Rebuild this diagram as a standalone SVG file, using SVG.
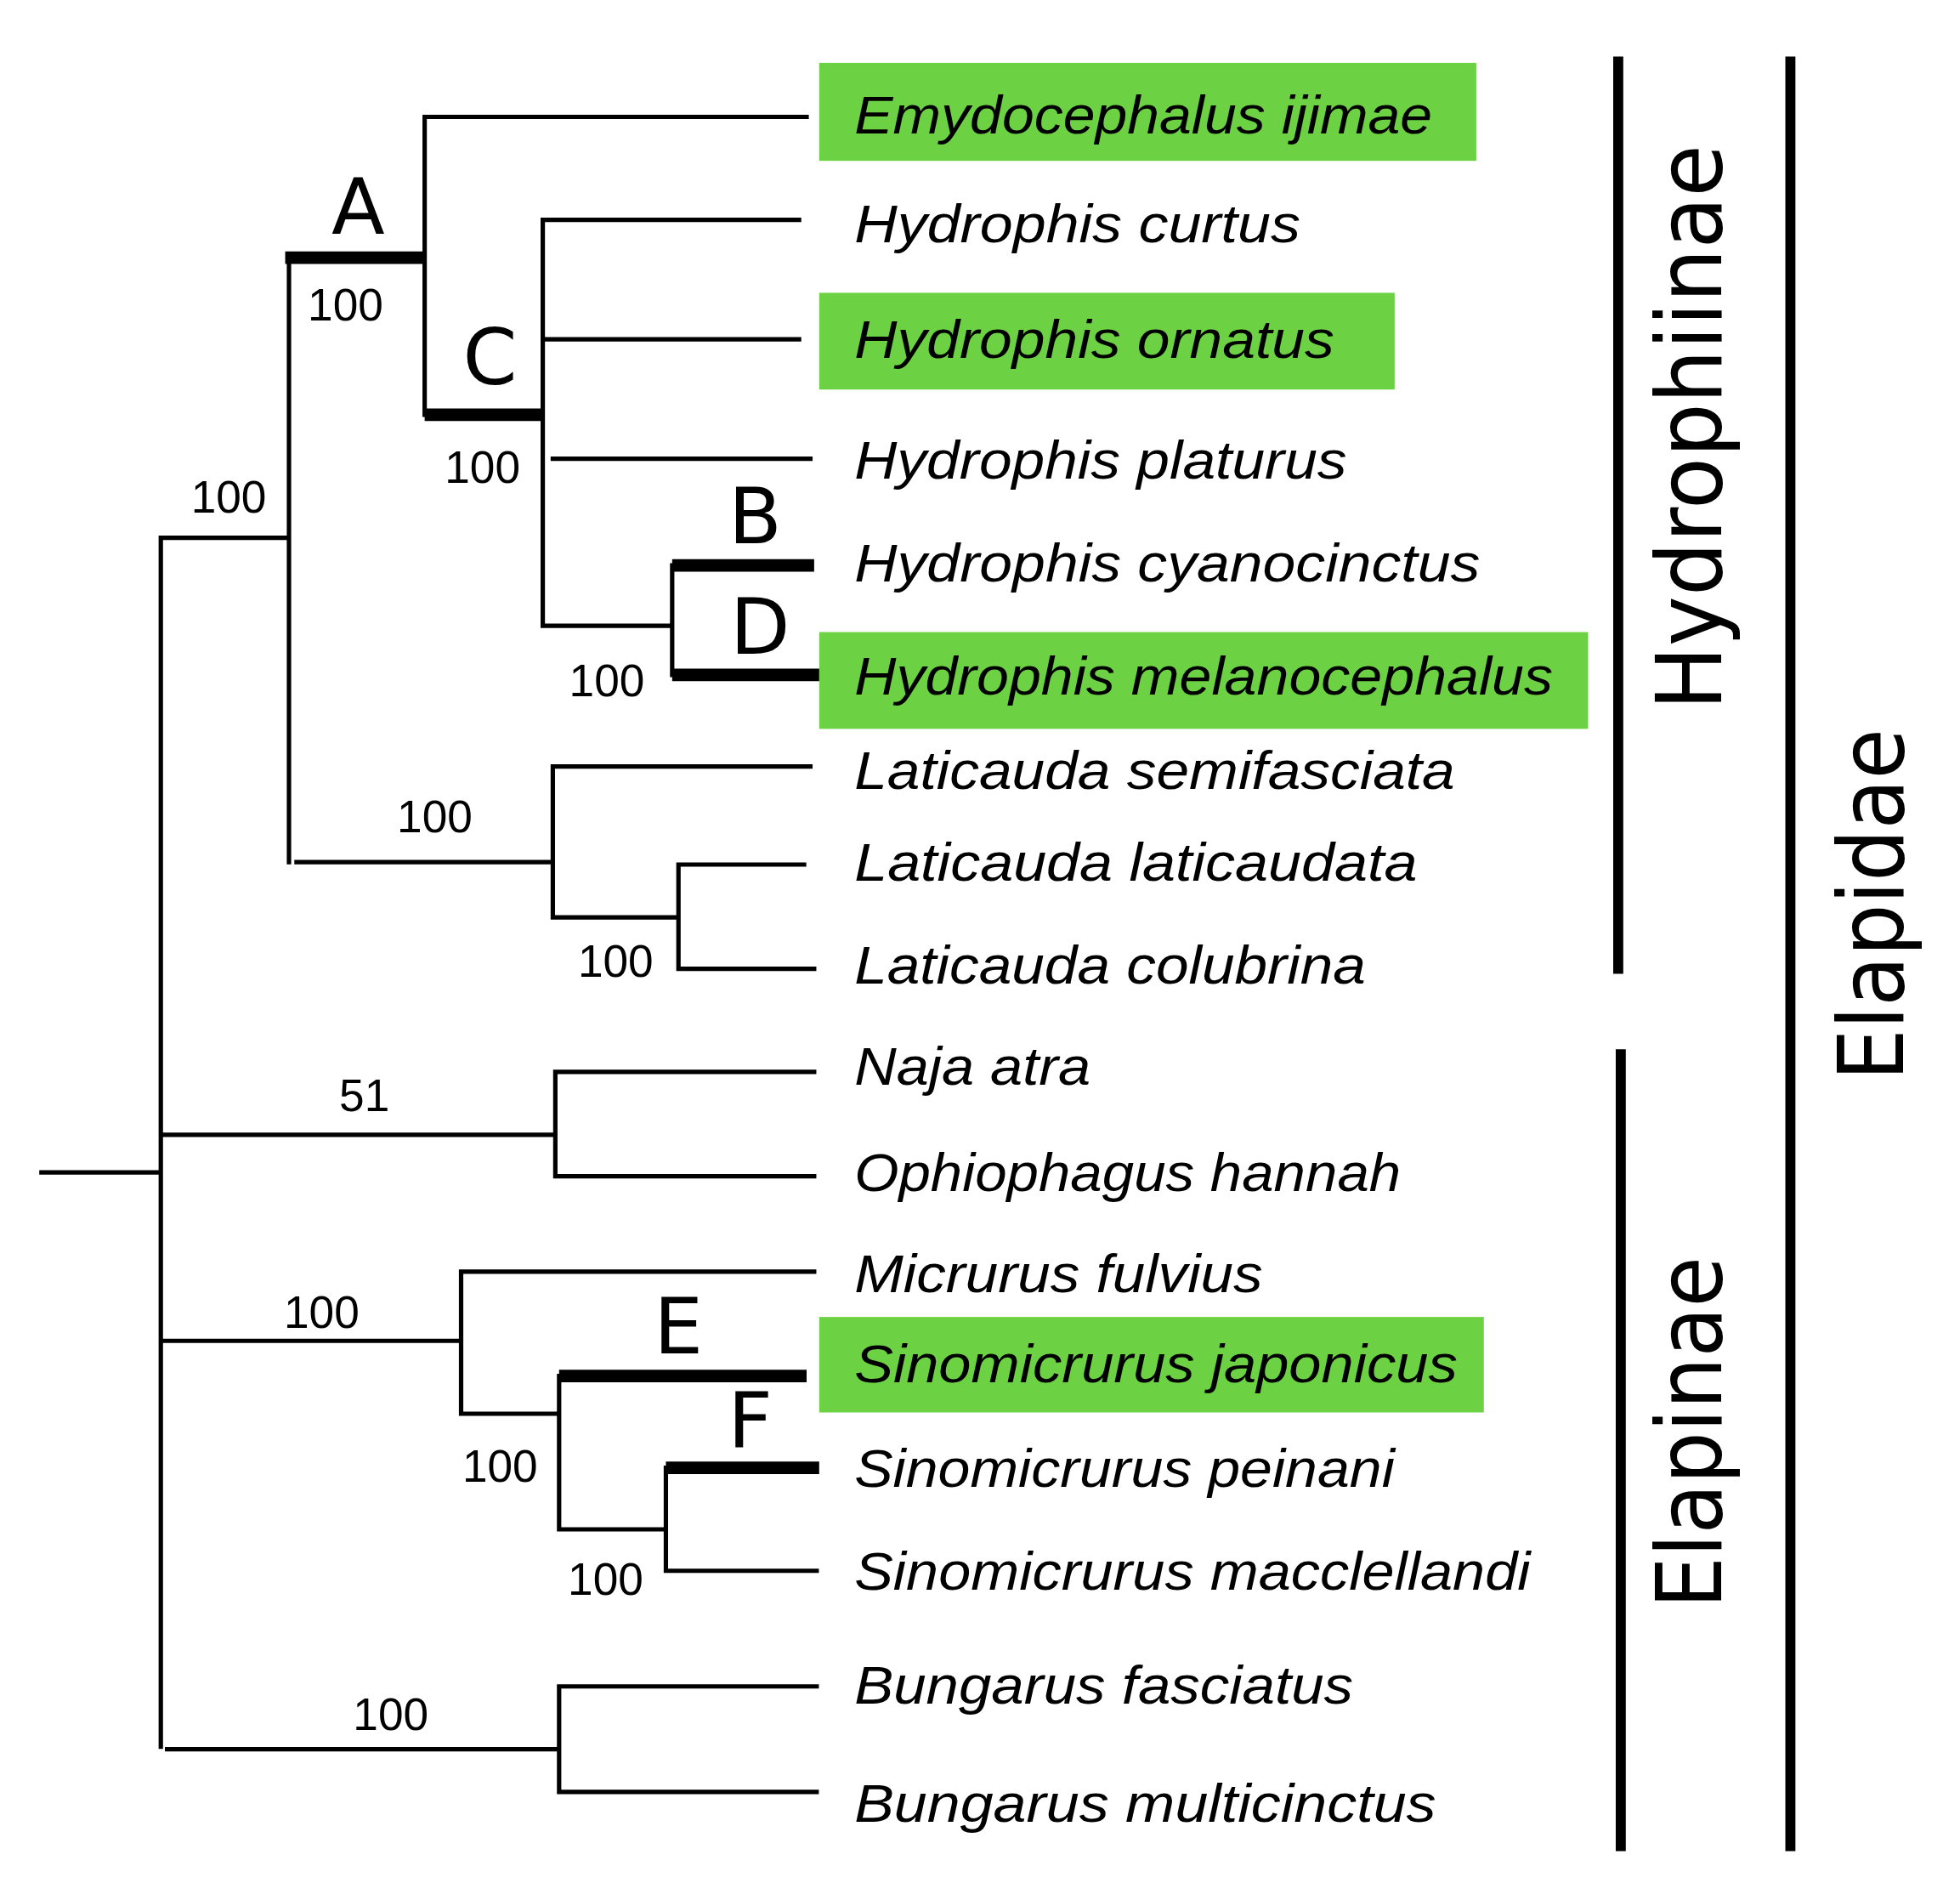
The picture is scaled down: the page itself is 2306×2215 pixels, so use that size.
<svg xmlns="http://www.w3.org/2000/svg" width="2306" height="2215" viewBox="0 0 2306 2215">
<style>
.t{fill:none;stroke:#000;stroke-width:3.5;stroke-linecap:square}
.k{fill:none;stroke:#000;stroke-width:10}
.g{fill:#6cd244}
.n{font-family:"Liberation Sans",Arial,sans-serif;font-style:italic;font-size:42px;fill:#000}
.b{font-family:"Liberation Sans",Arial,sans-serif;font-size:36px;fill:#000;text-anchor:middle}
.L{font-family:"DejaVu Sans",sans-serif;font-size:62px;fill:#000;text-anchor:middle}
.c{font-family:"DejaVu Sans",sans-serif;font-size:72px;fill:#000;text-anchor:middle}
.bar{stroke:#000;stroke-width:8}
</style>
<rect width="2306" height="2215" fill="#fff"/>
<g transform="scale(1.4782)">
<g id="highlights">
<rect class="g" x="652" y="50" width="523" height="78"/>
<rect class="g" x="652" y="233" width="458" height="77"/>
<rect class="g" x="652" y="503" width="612" height="77"/>
<rect class="g" x="652" y="1048" width="529" height="76"/>
</g>
<g id="connectors">
<path class="t" d="M33 933H128M128 428V1390M128 428H230M230 205V686M338 93V330M338 93H642M432 175V498M432 175H636M432 270H636M440 365H645M432 498H535M535 450V537M236 686H440M440 610V730M440 610H645M440 730H540M540 688V771M540 688H640M540 771H648M128 903H442M442 853V936M442 853H648M442 936H648M130 1067H367M367 1012V1125M367 1012H648M367 1125H445M445 1095V1217M445 1217H530M530 1168V1250M530 1250H650M133 1392H445M445 1342V1426M445 1342H650M445 1426H650"/>
<path class="k" d="M227 205H338M338 330H432M535 450H648M535 537H652M445 1095H642M530 1168H652"/>
</g>
<g id="labels">
<text class="L" x="285" y="186">A</text>
<text class="L" x="390" y="306">C</text>
<text class="L" x="601" y="432">B</text>
<text class="L" x="605" y="520">D</text>
<text class="L" x="540" y="1077">E</text>
<text class="L" x="597" y="1152">F</text>
<text class="b" x="182" y="408">100</text>
<text class="b" x="275" y="255">100</text>
<text class="b" x="384" y="384">100</text>
<text class="b" x="483" y="554">100</text>
<text class="b" x="346" y="662">100</text>
<text class="b" x="490" y="777">100</text>
<text class="b" x="290" y="884">51</text>
<text class="b" x="256" y="1057">100</text>
<text class="b" x="398" y="1179">100</text>
<text class="b" x="482" y="1269">100</text>
<text class="b" x="311" y="1377">100</text>
</g>
<g id="taxa">
<text class="n" x="680" y="106" textLength="460" lengthAdjust="spacingAndGlyphs">Emydocephalus ijimae</text>
<text class="n" x="680" y="193" textLength="355" lengthAdjust="spacingAndGlyphs">Hydrophis curtus</text>
<text class="n" x="680" y="285" textLength="382" lengthAdjust="spacingAndGlyphs">Hydrophis ornatus</text>
<text class="n" x="680" y="381" textLength="392" lengthAdjust="spacingAndGlyphs">Hydrophis platurus</text>
<text class="n" x="680" y="463" textLength="498" lengthAdjust="spacingAndGlyphs">Hydrophis cyanocinctus</text>
<text class="n" x="680" y="553" textLength="556" lengthAdjust="spacingAndGlyphs">Hydrophis melanocephalus</text>
<text class="n" x="680" y="628" textLength="478" lengthAdjust="spacingAndGlyphs">Laticauda semifasciata</text>
<text class="n" x="680" y="701" textLength="448" lengthAdjust="spacingAndGlyphs">Laticauda laticaudata</text>
<text class="n" x="680" y="783" textLength="407" lengthAdjust="spacingAndGlyphs">Laticauda colubrina</text>
<text class="n" x="680" y="863" textLength="188" lengthAdjust="spacingAndGlyphs">Naja atra</text>
<text class="n" x="680" y="948" textLength="435" lengthAdjust="spacingAndGlyphs">Ophiophagus hannah</text>
<text class="n" x="680" y="1028" textLength="325" lengthAdjust="spacingAndGlyphs">Micrurus fulvius</text>
<text class="n" x="680" y="1100" textLength="480" lengthAdjust="spacingAndGlyphs">Sinomicrurus japonicus</text>
<text class="n" x="680" y="1183" textLength="430" lengthAdjust="spacingAndGlyphs">Sinomicrurus peinani</text>
<text class="n" x="680" y="1265" textLength="538" lengthAdjust="spacingAndGlyphs">Sinomicrurus macclellandi</text>
<text class="n" x="680" y="1356" textLength="397" lengthAdjust="spacingAndGlyphs">Bungarus fasciatus</text>
<text class="n" x="680" y="1450" textLength="463" lengthAdjust="spacingAndGlyphs">Bungarus multicinctus</text>
</g>
<g id="groups">
<line class="bar" x1="1288" y1="45" x2="1288" y2="775"/>
<line class="bar" x1="1290" y1="835" x2="1290" y2="1473"/>
<line class="bar" x1="1425" y1="45" x2="1425" y2="1473"/>
<text class="c" transform="translate(1370 340) rotate(-90)" textLength="450" lengthAdjust="spacingAndGlyphs">Hydrophiinae</text>
<text class="c" transform="translate(1370 1140) rotate(-90)" textLength="280" lengthAdjust="spacingAndGlyphs">Elapinae</text>
<text class="c" transform="translate(1515 720) rotate(-90)" textLength="280" lengthAdjust="spacingAndGlyphs">Elapidae</text>
</g>
</g>
</svg>
